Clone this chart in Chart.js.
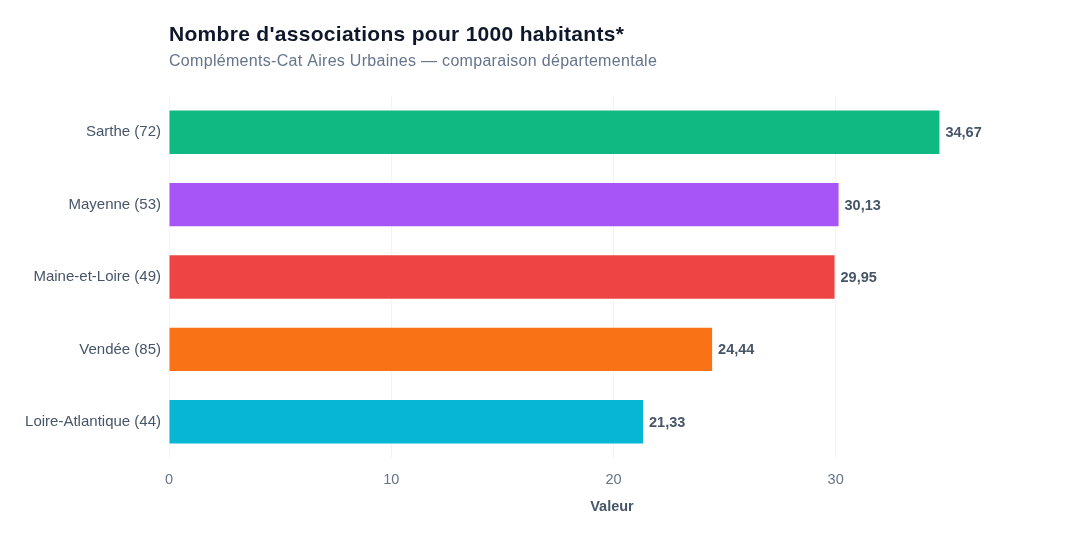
<!DOCTYPE html>
<html>
<head>
<meta charset="utf-8">
<script src="https://cdn.jsdelivr.net/npm/chart.js@4"></script>
<style>
  html, body { margin: 0; padding: 0; background: #fff; }
  #wrap { width: 1080px; height: 540px; position: relative; }
</style>
</head>
<body>
<div id="wrap"><canvas id="myChart" width="1080" height="540"></canvas></div>
<script>
var FONT = '"Liberation Sans", Arial, Helvetica, sans-serif';
var chartTitle = "Nombre d'associations pour 1000 habitants*";
var chartSubtitle = "Compléments-Cat Aires Urbaines — comparaison départementale";
var departements = ["Sarthe (72)", "Mayenne (53)", "Maine-et-Loire (49)", "Vendée (85)", "Loire-Atlantique (44)"];
var valeurs = [34.67, 30.13, 29.95, 24.44, 21.33];
var couleurs = ["#10b981", "#a855f7", "#ef4444", "#f97316", "#06b6d4"];
var xTicks = [0, 10, 20, 30];
var axeTitre = "Valeur";

function formatFr(v) {
    return v.toFixed(2).replace(".", ",");
}

// titre + sous-titre alignes sur la zone du graphique
var headerPlugin = {
    id: "header",
    afterDraw: function (chart) {
        var ctx = chart.ctx;
        var left = chart.chartArea.left;
        ctx.save();
        ctx.textAlign = "left";
        ctx.textBaseline = "alphabetic";
        ctx.fillStyle = "#0f172a";
        ctx.font = "bold 21px " + FONT;
        ctx.letterSpacing = "0.3px";
        ctx.fillText(chartTitle, left, 41);
        ctx.fillStyle = "#64748b";
        ctx.font = "16px " + FONT;
        ctx.letterSpacing = "0.3px";
        ctx.fillText(chartSubtitle, left, 66);
        ctx.restore();
    }
};

// etiquettes de valeur au bout des barres
var valuePlugin = {
    id: "valueLabels",
    afterDatasetsDraw: function (chart) {
        var ctx = chart.ctx;
        var meta = chart.getDatasetMeta(0);
        ctx.save();
        ctx.font = "bold 14.5px " + FONT;
        ctx.fillStyle = "#475569";
        ctx.textAlign = "left";
        ctx.textBaseline = "middle";
        meta.data.forEach(function (bar, i) {
            ctx.fillText(formatFr(valeurs[i]), bar.x + 6, bar.y + 1);
        });
        ctx.restore();
    }
};

var ctx = document.getElementById("myChart").getContext("2d");
var myChart = new Chart(ctx, {
    type: "bar",
    data: {
        labels: departements,
        datasets: [{
            data: valeurs,
            backgroundColor: couleurs,
            borderWidth: 0,
            barPercentage: 0.6,
            categoryPercentage: 1.0
        }]
    },
    options: {
        indexAxis: "y",
        responsive: false,
        animation: false,
        layout: { padding: { top: 96, right: 25, bottom: 0, left: 0 } },
        plugins: {
            legend: { display: false },
            tooltip: { enabled: false }
        },
        scales: {
            x: {
                min: 0,
                max: 39.87,
                afterFit: function (s) { s.height = 82; },
                afterBuildTicks: function (s) {
                    s.ticks = xTicks.map(function (v) { return { value: v }; });
                },
                grid: { color: "#f1f5f9", lineWidth: 1, drawTicks: false },
                border: { display: false },
                ticks: {
                    padding: 13,
                    color: "#64748b",
                    font: { family: FONT, size: 14.5 }
                },
                title: {
                    display: true,
                    text: axeTitre,
                    color: "#475569",
                    font: { family: FONT, size: 14.5, weight: "bold" },
                    padding: { top: 12, bottom: 24 }
                }
            },
            y: {
                afterFit: function (s) { s.width = 169; },
                grid: { display: false, drawTicks: false },
                border: { display: false },
                ticks: {
                    padding: 8,
                    color: "#475569",
                    font: { family: FONT, size: 15 }
                }
            }
        }
    },
    plugins: [headerPlugin, valuePlugin]
});
</script>
</body>
</html>
